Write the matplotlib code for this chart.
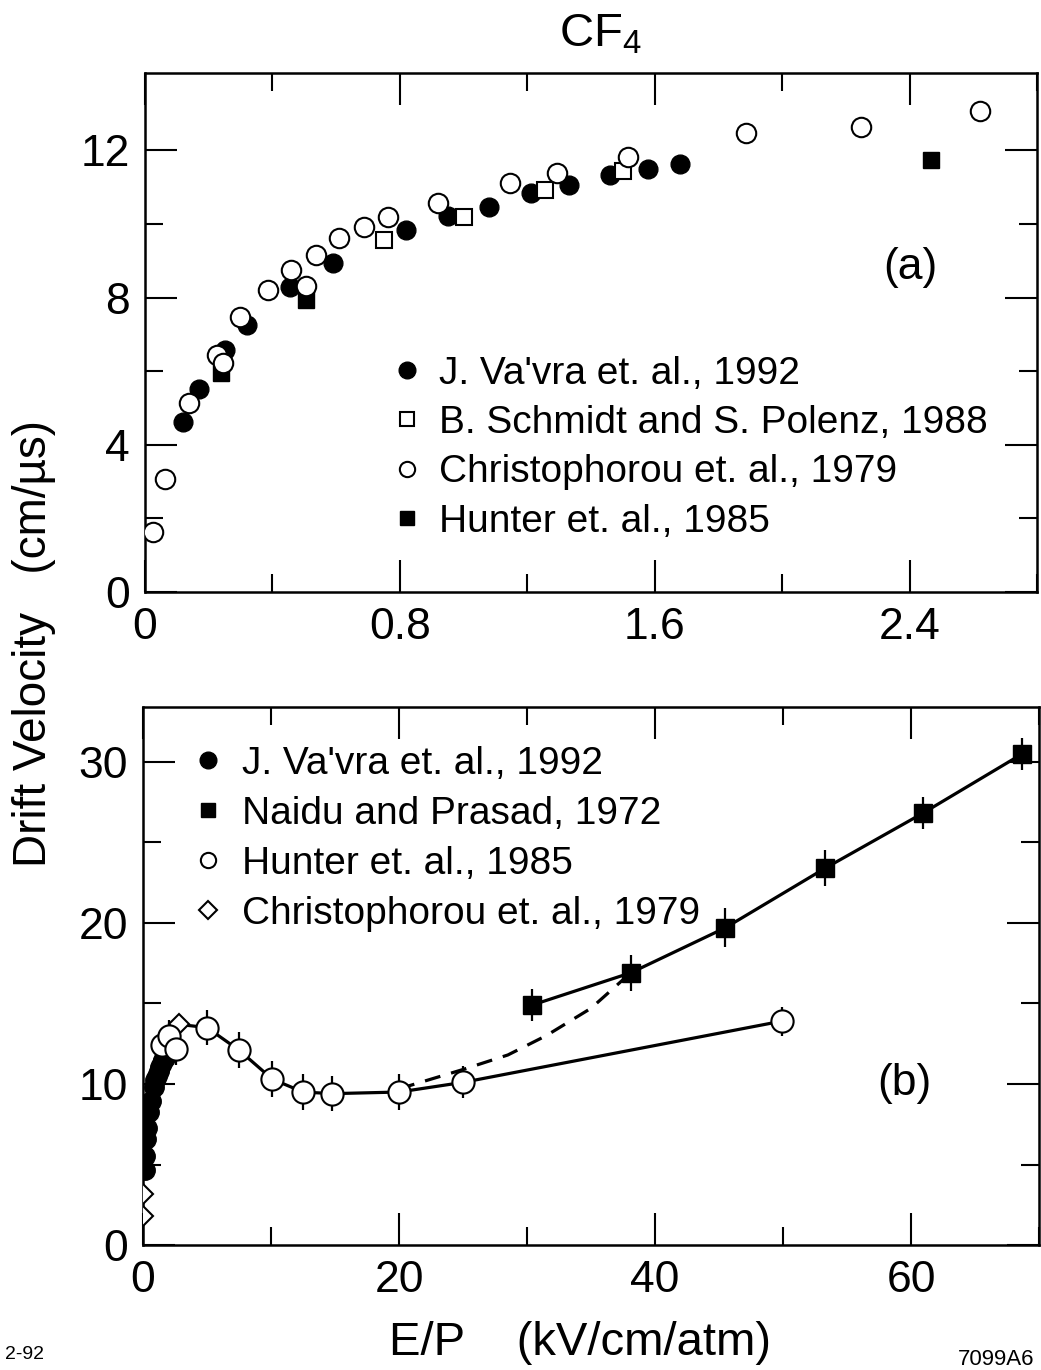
import matplotlib
matplotlib.use('Agg')
import matplotlib.pyplot as plt
from matplotlib.lines import Line2D

plt.rcParams['font.family'] = ['Liberation Sans', 'DejaVu Sans']
plt.rcParams['mathtext.fontset'] = 'custom'
plt.rcParams['mathtext.rm'] = 'Liberation Sans'
plt.rcParams['mathtext.it'] = 'Liberation Sans:italic'

# ---------------- Panel (a) data ----------------
vavra_x = [0.12, 0.17, 0.25, 0.32, 0.455, 0.59, 0.82, 0.95, 1.08, 1.21, 1.33, 1.46, 1.58, 1.68]
vavra_y = [4.63, 5.51, 6.58, 7.26, 8.28, 8.95, 9.84, 10.22, 10.47, 10.83, 11.06, 11.33, 11.49, 11.63]
schmidt_x = [0.75, 1.00, 1.255, 1.50]
schmidt_y = [9.57, 10.2, 10.92, 11.45]
chris_x = [0.026, 0.063, 0.139, 0.227, 0.246, 0.298, 0.387, 0.457, 0.505, 0.536,
           0.609, 0.688, 0.763, 0.918, 1.147, 1.292, 1.516, 1.886, 2.246, 2.62]
chris_y = [1.64, 3.06, 5.13, 6.44, 6.21, 7.48, 8.20, 8.75, 8.32, 9.16,
           9.63, 9.91, 10.2, 10.56, 11.1, 11.38, 11.83, 12.48, 12.63, 13.07]
hunter_a_x = [0.238, 0.504, 2.466]
hunter_a_y = [5.94, 7.93, 11.74]

# ---------------- Panel (b) data ----------------
naidu_x = [30.4, 38.1, 45.5, 53.3, 60.9, 68.7]
naidu_y = [14.9, 16.9, 19.7, 23.4, 26.8, 30.5]
naidu_err = [1.0, 1.1, 1.2, 1.1, 1.0, 1.0]
hunter_b_x = [1.5, 2.0, 2.6, 5.0, 7.5, 10.1, 12.5, 14.8, 20.0, 25.0, 49.9]
hunter_b_y = [12.4, 13.0, 12.2, 13.5, 12.1, 10.3, 9.5, 9.4, 9.5, 10.1, 13.9]
hunter_b_err = [1.0, 1.0, 1.0, 1.1, 1.1, 1.1, 1.1, 1.1, 1.1, 1.0, 0.9]
chris_b_x = [0.02, 0.03, 2.8]
chris_b_y = [1.8, 3.2, 13.7]
dash_x = [20.0, 25.0, 28.5, 31.5, 35.0, 38.1]
dash_y = [9.7, 10.9, 11.8, 13.0, 14.7, 16.9]

labels_a = ["J. Va'vra et. al., 1992", "B. Schmidt and S. Polenz, 1988",
            "Christophorou et. al., 1979", "Hunter et. al., 1985"]
labels_b = ["J. Va'vra et. al., 1992", "Naidu and Prasad, 1972",
            "Hunter et. al., 1985", "Christophorou et. al., 1979"]

TICK_FS = 32
LEG_FS = 28

fig = plt.figure(figsize=(10.41, 13.70), dpi=100)
ax1 = fig.add_axes([0.1393, 0.5679, 0.857, 0.3788])
ax2 = fig.add_axes([0.1374, 0.0912, 0.8607, 0.3927])

def style(ax):
    for s in ax.spines.values():
        s.set_linewidth(1.8)
    ax.tick_params(which='both', direction='in', top=True, right=True, width=1.5, colors='black')
    ax.tick_params(which='major', length=23, labelsize=TICK_FS, pad=11)
    ax.tick_params(which='minor', length=13)

# ---------- Panel (a) ----------
ax1.plot(vavra_x, vavra_y, 'o', color='black', ms=13.5, zorder=3)
ax1.plot(hunter_a_x, hunter_a_y, 's', color='black', ms=12, zorder=3)
ax1.plot(schmidt_x, schmidt_y, 's', mfc='white', mec='black', mew=1.5, ms=12, zorder=4)
ax1.plot(chris_x, chris_y, 'o', mfc='white', mec='black', mew=1.5, ms=14, zorder=4)
ax1.set_xlim(0, 2.8)
ax1.set_ylim(0, 14.1)
ax1.set_xticks([0, 0.8, 1.6, 2.4])
ax1.set_xticklabels(['0', '0.8', '1.6', '2.4'])
ax1.set_xticks([0.4, 1.2, 2.0, 2.8], minor=True)
ax1.set_yticks([0, 4, 8, 12])
ax1.set_yticks([2, 6, 10], minor=True)
style(ax1)
ax1.text(0.858, 0.626, '(a)', transform=ax1.transAxes, fontsize=32, ha='center', va='center')

h_a = [Line2D([], [], ls='none', marker='o', color='black', ms=12),
       Line2D([], [], ls='none', marker='s', mfc='white', mec='black', mew=1.5, ms=10),
       Line2D([], [], ls='none', marker='o', mfc='white', mec='black', mew=1.5, ms=11),
       Line2D([], [], ls='none', marker='s', color='black', ms=10)]
ax1.legend(h_a, labels_a, loc='upper left', bbox_to_anchor=(0.277, 0.455), frameon=False,
           fontsize=LEG_FS, handlelength=0.75, handletextpad=0.45, labelspacing=0.34,
           borderpad=0, borderaxespad=0)

# ---------- Panel (b) ----------
ax2.plot(chris_b_x, chris_b_y, 'D', mfc='white', mec='black', mew=1.5, ms=10, zorder=3)
ax2.plot(vavra_x, vavra_y, 'o', color='black', ms=14, zorder=4)
line_x = [chris_b_x[-1]] + hunter_b_x[3:]
line_y = [chris_b_y[-1]] + hunter_b_y[3:]
ax2.plot(line_x, line_y, '-', color='black', lw=2.3, zorder=2)
ax2.plot(dash_x, dash_y, '--', color='black', lw=2.3, dashes=(5, 3.5), zorder=2)
ax2.plot(naidu_x, naidu_y, '-', color='black', lw=2.3, zorder=2)
ax2.errorbar(hunter_b_x, hunter_b_y, yerr=hunter_b_err, fmt='o', mfc='white', mec='black',
             mew=1.5, ms=16, ecolor='black', elinewidth=1.6, capsize=0, zorder=5)
ax2.errorbar(naidu_x, naidu_y, yerr=naidu_err, fmt='s', color='black', ms=13,
             ecolor='black', elinewidth=1.6, capsize=0, zorder=5)
ax2.set_xlim(0, 70)
ax2.set_ylim(0, 33.4)
ax2.set_xticks([0, 20, 40, 60])
ax2.set_xticks([10, 30, 50, 70], minor=True)
ax2.set_yticks([0, 10, 20, 30])
ax2.set_yticks([5, 15, 25], minor=True)
style(ax2)
ax2.text(0.850, 0.301, '(b)', transform=ax2.transAxes, fontsize=32, ha='center', va='center')

h_b = [Line2D([], [], ls='none', marker='o', color='black', ms=12),
       Line2D([], [], ls='none', marker='s', color='black', ms=10),
       Line2D([], [], ls='none', marker='o', mfc='white', mec='black', mew=1.5, ms=11),
       Line2D([], [], ls='none', marker='D', mfc='white', mec='black', mew=1.5, ms=9)]
ax2.legend(h_b, labels_b, loc='upper left', bbox_to_anchor=(0.056, 0.928), frameon=False,
           fontsize=LEG_FS, handlelength=0.75, handletextpad=0.5, labelspacing=0.36,
           borderpad=0, borderaxespad=0)

# ---------- Figure texts ----------
fig.text(0.577, 0.9657, r'CF$_4$', fontsize=34, ha='center', va='baseline')
fig.text(0.033, 0.53, 'Drift Velocity   (cm/µs)', fontsize=33, rotation=90,
         ha='center', va='center')
fig.text(0.557, 0.011, 'E/P    (kV/cm/atm)', fontsize=34, ha='center', va='baseline')
fig.text(0.005, 0.008, '2-92', fontsize=14, ha='left', va='baseline')
fig.text(0.994, 0.004, '7099A6', fontsize=16, ha='right', va='baseline')

fig.savefig('out.png', dpi=100)
